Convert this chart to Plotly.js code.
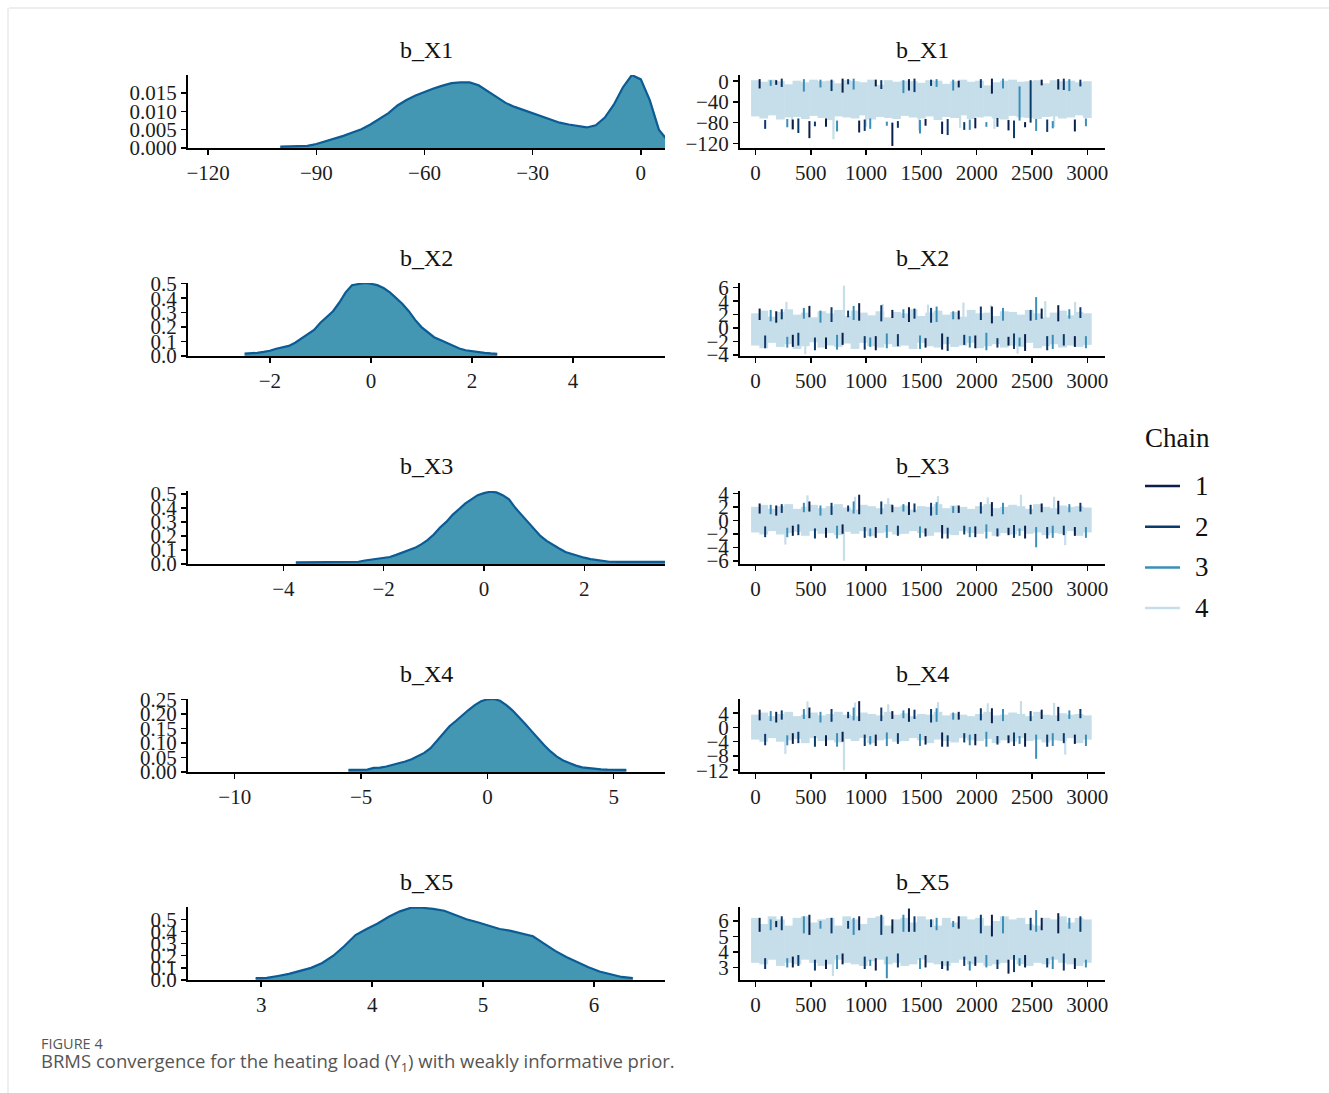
<!DOCTYPE html>
<html>
<head>
<meta charset="utf-8">
<script src="https://cdn.plot.ly/plotly-3.0.1.min.js"></script>
<style>
html,body{margin:0;padding:0;background:#ffffff;}
#chart{width:1329px;height:1093px;}
</style>
</head>
<body>
<div id="chart"></div>
<script>
// ---------------- data ----------------
const params = ['b_X1', 'b_X2', 'b_X3', 'b_X4', 'b_X5'];
const chainNames = ['1', '2', '3', '4'];

// posterior histograms (bin centres and densities)
const x1Bins = [-100,-97.5,-95,-92.5,-90,-87.5,-85,-82.5,-80,-77.5,-75,-72.5,-70,-67.5,-65,-62.5,-60,-57.5,-55,-52.5,-50,-47.5,-45,-42.5,-40,-37.5,-35,-32.5,-30,-27.5,-25,-22.5,-20,-17.5,-15,-12.5,-10,-7.5,-5,-2.5,0,2.5,5,7.5];
const x1Dens = [0.0004,0.0004,0.0005,0.0006,0.0011,0.0018,0.0025,0.0033,0.0042,0.0051,0.0064,0.0080,0.0095,0.0116,0.0131,0.0143,0.0153,0.0162,0.0170,0.0177,0.0179,0.0179,0.0171,0.0155,0.0137,0.0123,0.0112,0.0103,0.0094,0.0086,0.0076,0.0069,0.0064,0.0059,0.0056,0.0062,0.0083,0.0118,0.0165,0.0199,0.0187,0.0130,0.0050,0.0020];

const x2Bins = [-2.5,-2.375,-2.25,-2.125,-2.0,-1.875,-1.75,-1.625,-1.5,-1.375,-1.25,-1.125,-1.0,-0.875,-0.75,-0.625,-0.5,-0.375,-0.25,-0.125,0,0.125,0.25,0.375,0.5,0.625,0.75,0.875,1.0,1.125,1.25,1.375,1.5,1.625,1.75,1.875,2.0,2.125,2.25,2.375,2.5];
const x2Dens = [0.016,0.018,0.022,0.028,0.036,0.050,0.060,0.070,0.092,0.12,0.15,0.18,0.23,0.27,0.31,0.37,0.44,0.49,0.50,0.505,0.50,0.49,0.47,0.44,0.40,0.36,0.31,0.25,0.20,0.165,0.13,0.11,0.092,0.072,0.052,0.040,0.033,0.028,0.022,0.018,0.015];

const x3Bins = [-3.75,-3.5,-3.25,-3.0,-2.75,-2.5,-2.375,-2.25,-2.125,-2.0,-1.875,-1.75,-1.625,-1.5,-1.375,-1.25,-1.125,-1.0,-0.875,-0.75,-0.625,-0.5,-0.375,-0.25,-0.125,0,0.125,0.25,0.375,0.5,0.625,0.75,0.875,1.0,1.125,1.25,1.375,1.5,1.625,1.75,1.875,2.0,2.125,2.25,2.375,2.5,2.75,3.0,3.25,3.5,3.75];
const x3Dens = [0.012,0.013,0.013,0.014,0.015,0.016,0.025,0.030,0.036,0.042,0.050,0.065,0.080,0.095,0.115,0.140,0.170,0.210,0.260,0.300,0.350,0.390,0.430,0.460,0.490,0.505,0.515,0.510,0.490,0.460,0.400,0.350,0.300,0.250,0.200,0.165,0.135,0.110,0.085,0.070,0.055,0.045,0.035,0.028,0.020,0.016,0.015,0.015,0.015,0.015,0.015];

const x4Bins = [-5.5,-5.25,-5.0,-4.75,-4.5,-4.25,-4.0,-3.75,-3.5,-3.25,-3.0,-2.75,-2.5,-2.25,-2.0,-1.75,-1.5,-1.25,-1.0,-0.75,-0.5,-0.25,0,0.25,0.5,0.75,1.0,1.25,1.5,1.75,2.0,2.25,2.5,2.75,3.0,3.25,3.5,3.75,4.0,4.25,4.5,4.75,5.0,5.25,5.5];
const x4Dens = [0.007,0.007,0.007,0.008,0.014,0.015,0.019,0.024,0.029,0.036,0.044,0.054,0.066,0.082,0.108,0.135,0.158,0.176,0.196,0.214,0.231,0.244,0.251,0.252,0.246,0.231,0.212,0.190,0.166,0.141,0.116,0.092,0.071,0.053,0.040,0.030,0.022,0.016,0.013,0.011,0.009,0.008,0.008,0.008,0.007];

const x5Bins = [2.95,3.05,3.15,3.25,3.35,3.45,3.55,3.65,3.75,3.85,3.95,4.05,4.15,4.25,4.35,4.45,4.55,4.65,4.75,4.85,4.95,5.05,5.15,5.25,5.35,5.45,5.55,5.65,5.75,5.85,5.95,6.05,6.15,6.25,6.35];
const x5Dens = [0.016,0.018,0.033,0.05,0.075,0.10,0.14,0.20,0.28,0.37,0.42,0.465,0.52,0.565,0.595,0.595,0.585,0.57,0.535,0.50,0.475,0.445,0.42,0.405,0.385,0.36,0.30,0.24,0.19,0.145,0.105,0.07,0.045,0.025,0.015];

// trace plots
// chains 1-3: range (from, to) covered by the chain in consecutive 150-iteration windows
// chain 4: low / high of each 75-iteration window, plus its isolated extreme draws [iteration, value]
const windowStep = 75;
const chainOffsets = [0, 50, 100];
const iterTicks = [0, 500, 1000, 1500, 2000, 2500, 3000];

const tX1c1 = [4,-14,2,-7,-74,-93,-77,-110,-72,-88,5,-22,-76,-99,3,-10,-80,-125,4,-18,-73,-86,-78,-102,1,-12,-71,-91,5,-24,-75,-95,-79,-89,3,-8,4,-16,-74,-97];
const tX1c2 = [-75,-92,5,-11,-72,-100,-78,-87,3,-19,4,-6,-74,-96,2,-15,-77,-90,5,-21,3,-9,-73,-104,-79,-94,4,-13,-71,-88,-76,-110,2,-80,-74,-98,5,-17,3,-10];
const tX1c3 = [2,-9,-73,-89,4,-20,3,-12,-76,-97,5,-16,-72,-92,-78,-86,2,-23,-75,-101,4,-11,3,-18,-74,-94,-79,-88,5,-14,-10,-76,-73,-96,-77,-91,4,-19,-72,-87];
const tX1c4Lo = [-68,-72,-66,-74,-70,-69,-73,-67,-71,-75,-68,-70,-72,-66,-74,-69,-71,-73,-67,-70,-72,-68,-75,-69,-71,-66,-73,-70,-68,-72,-74,-67,-70,-71,-73,-69,-68,-72,-70,-66,-71];
const tX1c4Hi = [2,-1,3,0,-6,1,-2,3,0,1,-4,2,0,-2,3,-7,2,-1,1,0,-3,2,1,-5,0,3,-1,1,-8,-2,1,3,-1,0,2,-4,2,0,1,-2,0];
const tX1c4Ext = [[330,-93],[705,-112],[1000,-88],[1480,-95],[1850,-90],[2160,-92],[2700,-89]];

const tX2c1 = [1.2,2.9,0.8,2.5,-1.0,-2.8,1.6,3.3,-1.4,-3.1,-0.7,-2.5,1.1,3.7,-1.2,-3.3,1.5,2.7,0.9,3.1,-1.5,-2.9,-0.8,-3.2,1.3,2.6,-1.1,-3.0,0.7,3.2,-1.3,-2.6,-0.9,-3.4,1.4,2.9,1.0,3.4,-1.2,-2.8];
const tX2c2 = [-1.1,-3.0,1.3,2.8,-0.7,-2.6,-1.4,-3.3,0.9,3.1,1.6,2.6,-1.2,-3.2,1.0,3.4,-0.9,-2.7,1.4,2.9,0.8,3.0,-1.3,-3.4,-1.0,-2.5,1.2,3.2,-1.5,-2.9,-0.8,-3.1,1.1,2.7,-1.2,-3.3,-0.9,-2.6,1.5,3.1];
const tX2c3 = [1.0,2.7,-1.3,-2.9,1.4,3.0,0.8,2.6,-1.0,-3.2,1.2,3.3,-1.4,-2.8,-0.8,-3.0,1.5,2.8,-1.1,-3.1,0.9,3.2,1.3,2.5,-1.2,-2.9,-0.7,-3.3,1.1,3.0,-1.4,-2.7,1.2,4.6,-1.0,-3.1,1.4,2.8,-1.2,-3.0];
const tX2c4Lo = [-2.6,-3.0,-2.2,-2.8,-2.4,-3.1,-2.7,-2.1,-2.9,-2.6,-2.8,-2.3,-3.1,-2.2,-2.7,-2.9,-2.4,-2.8,-2.6,-3.1,-2.2,-2.7,-2.9,-2.4,-2.8,-2.6,-2.2,-3.0,-2.7,-2.4,-2.9,-2.6,-2.8,-2.2,-3.0,-2.7,-2.4,-2.9,-2.6,-2.8,-2.5];
const tX2c4Hi = [2.2,2.6,1.7,2.4,2.8,2.0,2.3,1.6,2.5,2.2,2.7,1.8,2.6,2.3,1.9,2.5,1.6,2.4,2.2,2.8,1.8,2.3,2.6,2.0,2.4,1.7,2.7,2.2,2.3,1.8,2.5,2.4,2.0,2.7,2.2,1.6,2.3,2.6,1.9,2.4,2.2];
const tX2c4Ext = [[280,3.9],[450,-3.9],[800,6.3],[1150,3.6],[1560,3.5],[1880,3.8],[2130,3.4],[2370,-3.8],[2620,4.0],[2890,3.9]];

const tX3c1 = [1.0,2.5,0.7,2.2,-0.8,-2.3,1.3,2.8,-1.1,-2.6,-0.6,-2.0,0.9,3.8,-1.0,-2.6,1.2,2.3,0.8,2.7,-1.2,-2.4,-0.7,-2.7,1.1,2.2,-0.9,-2.5,0.6,2.7,-1.1,-2.2,-0.8,-2.7,1.2,2.5,0.9,2.9,-1.0,-2.3];
const tX3c2 = [-0.9,-2.5,1.1,2.4,-0.6,-2.2,-1.2,-2.7,0.8,2.6,1.3,2.2,-1.0,-2.6,0.9,2.8,-0.8,-2.3,1.2,2.5,0.7,2.6,-1.1,-2.7,-0.8,-2.1,1.0,2.7,-1.2,-2.4,-0.7,-2.6,0.9,2.3,-1.0,-2.7,-0.8,-2.2,1.3,2.6];
const tX3c3 = [0.9,2.3,-1.1,-2.5,1.2,2.6,0.7,2.2,-0.8,-2.7,1.0,2.8,-1.2,-2.4,-0.7,-2.6,1.3,2.4,-0.9,-2.6,0.8,2.7,1.1,2.1,-1.0,-2.5,-0.6,-2.7,0.9,2.6,-1.2,-2.3,-1.0,-4.0,-0.8,-2.6,1.2,2.4,-1.0,-2.6];
const tX3c4Lo = [-1.8,-2.1,-1.6,-2.1,-1.9,-1.7,-2.3,-1.6,-2.0,-1.9,-2.2,-1.7,-2.0,-1.6,-2.3,-1.9,-1.7,-2.1,-2.0,-1.6,-1.9,-2.3,-1.8,-2.0,-2.2,-1.6,-1.9,-2.0,-1.7,-2.3,-1.9,-2.1,-1.6,-2.0,-1.8,-2.2,-1.9,-2.0,-1.6,-2.3,-1.8];
const tX3c4Hi = [2.0,2.3,1.7,2.1,2.4,1.7,2.0,2.3,1.8,2.1,2.4,1.9,1.6,2.3,2.1,1.8,2.4,2.0,2.2,1.6,2.1,2.0,2.4,1.8,2.2,2.0,1.7,2.1,2.4,1.8,2.0,2.3,2.1,1.7,2.4,2.0,1.8,2.2,2.0,2.1,1.9];
const tX3c4Ext = [[270,-3.6],[470,3.7],[800,-6.0],[900,3.5],[1200,3.3],[1650,3.6],[2100,3.4],[2400,3.8],[2700,3.5],[2800,-3.7]];

const tX4c1 = [2.0,5.0,1.4,4.4,-1.6,-4.6,2.6,5.6,-2.2,-5.2,-1.2,-4.0,1.8,7.4,-2.0,-5.2,2.4,4.6,1.6,5.4,-2.4,-4.8,-1.4,-5.4,2.2,4.4,-1.8,-5.0,1.2,5.4,-2.2,-4.4,-1.6,-5.4,2.4,5.0,1.8,5.8,-2.0,-4.6];
const tX4c2 = [-1.8,-5.0,2.2,4.8,-1.2,-4.4,-2.4,-5.4,1.6,5.2,2.6,4.4,-2.0,-5.2,1.8,5.6,-1.6,-4.6,2.4,5.0,1.4,5.2,-2.2,-5.4,-1.6,-4.2,2.0,5.4,-2.4,-4.8,-1.4,-5.2,1.8,4.6,-2.0,-5.4,-1.6,-4.4,2.6,5.2];
const tX4c3 = [1.8,4.6,-2.2,-5.0,2.4,5.2,1.4,4.4,-1.6,-5.4,2.0,5.6,-2.4,-4.8,-1.4,-5.2,2.6,4.8,-1.8,-5.2,1.6,5.4,2.2,4.2,-2.0,-5.0,-1.2,-5.4,1.8,5.2,-2.4,-4.6,-2.0,-8.8,-1.6,-5.2,2.4,4.8,-2.0,-5.2];
const tX4c4Lo = [-3.4,-4.0,-3.0,-4.0,-3.6,-3.2,-4.4,-3.0,-3.8,-3.6,-4.2,-3.2,-3.8,-3.0,-4.4,-3.6,-3.2,-4.0,-3.8,-3.0,-3.6,-4.4,-3.4,-3.8,-4.2,-3.0,-3.6,-3.8,-3.2,-4.4,-3.6,-4.0,-3.0,-3.8,-3.4,-4.2,-3.6,-3.8,-3.0,-4.4,-3.4];
const tX4c4Hi = [3.6,4.2,3.2,3.8,4.4,3.2,3.6,4.2,3.4,3.8,4.4,3.6,3.2,4.2,3.8,3.4,4.4,3.6,4.0,3.2,3.8,3.6,4.4,3.4,4.0,3.6,3.2,3.8,4.4,3.4,3.6,4.2,3.8,3.2,4.4,3.6,3.4,4.0,3.6,3.8,3.4];
const tX4c4Ext = [[270,-7.4],[470,7.3],[800,-12.0],[900,7.0],[1200,6.5],[1650,7.1],[2100,6.8],[2400,7.4],[2700,6.9],[2800,-7.6]];

const tX5c1 = [5.3,6.2,5.6,6.0,3.7,3.0,5.1,6.4,3.5,2.9,3.9,3.2,5.4,6.3,3.6,2.8,5.2,6.1,5.3,6.8,3.8,3.0,3.4,2.9,5.5,6.3,3.7,3.1,5.0,6.4,3.5,2.6,3.8,3.0,5.4,6.2,5.2,6.5,3.6,2.9];
const tX5c2 = [3.6,2.9,5.4,6.3,3.8,3.1,3.5,2.8,5.2,6.2,5.5,6.0,3.7,2.9,5.1,6.4,3.9,3.0,5.3,6.3,5.6,6.1,3.4,2.8,3.7,3.1,5.2,6.4,3.5,2.9,3.8,2.7,5.4,6.2,3.6,3.0,3.9,2.8,5.3,6.3];
const tX5c3 = [5.4,6.1,3.6,3.0,5.2,6.3,5.5,6.0,3.8,2.9,5.1,6.2,3.5,3.1,3.7,2.3,5.3,6.4,3.6,2.9,5.4,6.2,5.6,6.0,3.4,2.8,3.8,3.0,5.2,6.3,3.6,3.1,5.3,6.7,3.7,2.9,5.5,6.2,3.5,3.0];
const tX5c4Lo = [3.3,3.2,3.5,3.1,3.3,3.2,3.5,3.3,3.1,3.2,3.5,3.3,3.2,3.1,3.4,3.5,3.2,3.3,3.1,3.2,3.5,3.3,3.2,3.1,3.3,3.5,3.2,3.3,3.1,3.2,3.3,3.5,3.2,3.1,3.3,3.2,3.5,3.3,3.2,3.1,3.3];
const tX5c4Hi = [6.2,5.8,6.3,6.1,5.7,6.2,6.3,5.9,6.1,6.2,5.7,6.3,6.1,5.8,6.2,6.3,5.7,6.1,6.2,5.9,6.3,6.1,5.7,6.2,5.9,6.3,6.1,6.2,5.7,6.0,6.3,6.1,6.2,5.8,5.7,6.2,6.1,6.3,5.9,6.2,6.1];
const tX5c4Ext = [[700,2.45]];

// axis ticks
const densXTicks = [[-120,-90,-60,-30,0],[-2,0,2,4],[-4,-2,0,2],[-10,-5,0,5],[3,4,5,6]];
const densYTicks = [[0,0.005,0.010,0.015],[0,0.1,0.2,0.3,0.4,0.5],[0,0.1,0.2,0.3,0.4,0.5],[0,0.05,0.10,0.15,0.20,0.25],[0,0.1,0.2,0.3,0.4,0.5]];
const densYFormat = ['.3f','.1f','.1f','.2f','.1f'];
const traceYTicks = [[-120,-80,-40,0],[-4,-2,0,2,4,6],[-6,-4,-2,0,2,4],[-12,-8,-4,0,4],[3,4,5,6]];

// ---------------- layout / styling ----------------
const W = 1329, H = 1093;
const PX = v => v / W, PY = v => 1 - v / H;
const leftCol = [188, 665], rightCol = [740, 1105];
const rowBottom = [148, 356, 564, 772, 980];
const plotH = 73;

const densXRange = [[-125.6,6.7],[-3.62,5.82],[-5.9,3.61],[-11.85,7.03],[2.34,6.64]];
const densYRange = [[0,0.0199],[0,0.505],[0,0.52],[0,0.252],[0,0.601]];
const traceXRange = [-140, 3160];
const traceYRange = [[-129,12],[-4.15,6.7],[-6.48,4.35],[-12.5,8.0],[2.19,6.9]];

const densBins = [x1Bins, x2Bins, x3Bins, x4Bins, x5Bins];
const densVals = [x1Dens, x2Dens, x3Dens, x4Dens, x5Dens];
const traceChains = [
  [tX1c1, tX1c2, tX1c3], [tX2c1, tX2c2, tX2c3], [tX3c1, tX3c2, tX3c3],
  [tX4c1, tX4c2, tX4c3], [tX5c1, tX5c2, tX5c3]
];
const traceC4 = [[tX1c4Lo, tX1c4Hi, tX1c4Ext],[tX2c4Lo, tX2c4Hi, tX2c4Ext],[tX3c4Lo, tX3c4Hi, tX3c4Ext],[tX4c4Lo, tX4c4Hi, tX4c4Ext],[tX5c4Lo, tX5c4Hi, tX5c4Ext]];

const chainColors = ['#0b1f4b', '#0b3a6c', '#3a8fb8', '#c6deea'];
const densFill = '#4397b3', densLine = '#0b5b94';
const serif = 'Liberation Serif, Times New Roman, serif';
const tickFont = {family: serif, size: 21, color: '#1c1c1c'};

const traces = [];
const layout = {
  width: W, height: H,
  margin: {l: 0, r: 0, t: 0, b: 0},
  paper_bgcolor: '#ffffff', plot_bgcolor: 'rgba(0,0,0,0)',
  showlegend: false,
  annotations: [], shapes: []
};

function axisBase(domain, range, anchor) {
  return {
    domain: domain, range: range, anchor: anchor,
    showline: true, linecolor: '#000000', linewidth: 2,
    ticks: 'outside', ticklen: 5, tickwidth: 1.5, tickcolor: '#000000',
    showgrid: false, zeroline: false, fixedrange: true,
    tickfont: tickFont, tickmode: 'array'
  };
}

for (let r = 0; r < 5; r++) {
  const yDom = [PY(rowBottom[r]), PY(rowBottom[r] - plotH)];
  const kL = 2 * r + 1, kR = 2 * r + 2;
  // density panel
  layout['xaxis' + kL] = Object.assign(axisBase([PX(leftCol[0]), PX(leftCol[1])], densXRange[r], 'y' + kL), {tickvals: densXTicks[r]});
  layout['yaxis' + kL] = Object.assign(axisBase(yDom, densYRange[r], 'x' + kL), {tickvals: densYTicks[r], tickformat: densYFormat[r]});
  traces.push({
    type: 'scatter', mode: 'lines', x: densBins[r], y: densVals[r],
    xaxis: 'x' + kL, yaxis: 'y' + kL,
    line: {shape: 'linear', color: densLine, width: 2.2},
    fill: 'tozeroy', fillcolor: densFill, hoverinfo: 'skip'
  });
  // trace panel
  layout['xaxis' + kR] = Object.assign(axisBase([PX(rightCol[0]), PX(rightCol[1])], traceXRange, 'y' + kR), {tickvals: iterTicks});
  layout['yaxis' + kR] = Object.assign(axisBase(yDom, traceYRange[r], 'x' + kR), {tickvals: traceYTicks[r]});

  // chain 4: window band + isolated extremes
  const lo = traceC4[r][0], hi = traceC4[r][1], ext = traceC4[r][2];
  const bx = [], by = [];
  lo.forEach((v, i) => { bx.push(i * windowStep, i * windowStep, null); by.push(v, hi[i], null); });
  traces.push({
    type: 'scatter', mode: 'lines', x: bx, y: by, connectgaps: false,
    xaxis: 'x' + kR, yaxis: 'y' + kR,
    line: {color: chainColors[3], width: 8.8}, hoverinfo: 'skip', name: chainNames[3]
  });
  const ex = [], ey = [];
  ext.forEach(([it, v]) => {
    const w = Math.round(it / windowStep);
    ex.push(it, it, null); ey.push((lo[w] + hi[w]) / 2, v, null);
  });
  traces.push({
    type: 'scatter', mode: 'lines', x: ex, y: ey, connectgaps: false,
    xaxis: 'x' + kR, yaxis: 'y' + kR,
    line: {color: chainColors[3], width: 2.2}, hoverinfo: 'skip', name: chainNames[3]
  });
  // chains 3, 2, 1: window ranges
  for (let c = 2; c >= 0; c--) {
    const vals = traceChains[r][c];
    const sx = [], sy = [];
    for (let k = 0; k + 1 < vals.length; k += 2) {
      const it = k * windowStep + windowStep / 2 + chainOffsets[c];
      sx.push(it, it, null); sy.push(vals[k], vals[k + 1], null);
    }
    traces.push({
      type: 'scatter', mode: 'lines', x: sx, y: sy, connectgaps: false,
      xaxis: 'x' + kR, yaxis: 'y' + kR,
      line: {color: chainColors[c], width: 2}, hoverinfo: 'skip', name: chainNames[c]
    });
  }
  // panel titles
  [leftCol, rightCol].forEach(col => {
    layout.annotations.push({
      xref: 'paper', yref: 'paper', x: PX((col[0] + col[1]) / 2), y: PY(rowBottom[r] - plotH - 25),
      xanchor: 'center', yanchor: 'middle', showarrow: false,
      text: params[r], font: {family: serif, size: 24, color: '#111111'}
    });
  });
}

// legend
layout.annotations.push({
  xref: 'paper', yref: 'paper', x: PX(1143), y: PY(438), xanchor: 'left', yanchor: 'middle',
  showarrow: false, text: 'Chain', font: {family: serif, size: 27, color: '#111111'}
});
chainNames.forEach((nm, j) => {
  const yy = 486 + j * 40.7;
  layout.shapes.push({
    type: 'line', xref: 'paper', yref: 'paper', x0: PX(1145), x1: PX(1180), y0: PY(yy), y1: PY(yy),
    line: {color: chainColors[j], width: 2.5}
  });
  layout.annotations.push({
    xref: 'paper', yref: 'paper', x: PX(1202), y: PY(yy), xanchor: 'center', yanchor: 'middle',
    showarrow: false, text: nm, font: {family: serif, size: 27, color: '#111111'}
  });
});

// frame lines of the figure card
layout.shapes.push({type: 'line', xref: 'paper', yref: 'paper', x0: PX(9), x1: 1, y0: PY(8), y1: PY(8), line: {color: '#dddddd', width: 1}});
layout.shapes.push({type: 'line', xref: 'paper', yref: 'paper', x0: PX(8), x1: PX(8), y0: PY(8), y1: 0, line: {color: '#dddddd', width: 1}});

// caption
layout.annotations.push({
  xref: 'paper', yref: 'paper', x: PX(39), y: PY(1043), xanchor: 'left', yanchor: 'middle', showarrow: false,
  text: 'FIGURE 4', font: {family: 'Open Sans, sans-serif', size: 14.5, color: '#555555'}
});
layout.annotations.push({
  xref: 'paper', yref: 'paper', x: PX(39), y: PY(1062), xanchor: 'left', yanchor: 'middle', showarrow: false,
  text: 'BRMS convergence for the heating load (Y<sub>1</sub>) with weakly informative prior.',
  font: {family: 'Open Sans, sans-serif', size: 18.5, color: '#555555'}
});

Plotly.newPlot('chart', traces, layout, {staticPlot: true, displayModeBar: false});
</script>
</body>
</html>
